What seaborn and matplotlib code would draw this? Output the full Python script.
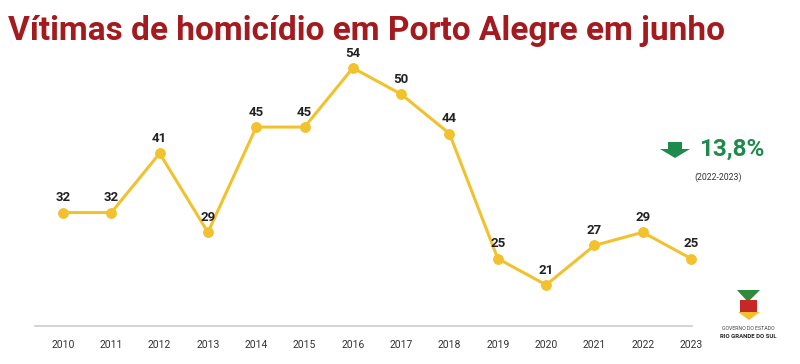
import matplotlib
matplotlib.use("Agg")
import matplotlib.pyplot as plt
from matplotlib.patches import Polygon
import seaborn as sns
import pandas as pd

years = [2010, 2011, 2012, 2013, 2014, 2015, 2016, 2017, 2018, 2019, 2020, 2021, 2022, 2023]
victims = [32, 32, 41, 29, 45, 45, 54, 50, 44, 25, 21, 27, 29, 25]
tick_labels = [str(y) for y in years]
title = "Vítimas de homicídio em Porto Alegre em junho"
change_text = "13,8%"
period_text = "(2022-2023)"
logo_line1 = "GOVERNO DO ESTADO"
logo_line2 = "RIO GRANDE DO SUL"

sns.set_theme(style="white")
plt.rcParams['font.family'] = ['Roboto', 'DejaVu Sans']

df = pd.DataFrame({"ano": years, "vitimas": victims})

W, H = 800, 364
fig = plt.figure(figsize=(W / 100, H / 100), dpi=100)
ax = fig.add_axes([35 / W, 1 - 326 / H, (692 - 35) / W, (326 - 60) / H])

yellow = "#F2C12E"
sns.lineplot(data=df, x="ano", y="vitimas", ax=ax, color=yellow, linewidth=2.2,
             marker="o", markersize=7, markeredgecolor=yellow, markerfacecolor=yellow)
for ln in ax.get_lines():
    ln.set_clip_on(False)

for x, v in zip(years, victims):
    ax.annotate(str(v), (x, v), xytext=(0, 6), textcoords="offset points",
                ha="center", va="bottom", fontsize=9.5, fontweight="bold", color="#222222")

ax.set_xlim(2009.42, 2023.02)
ax.set_ylim(14.75, 55.2)
ax.set_xticks(years)
ax.set_xticklabels(tick_labels, fontsize=7.5, color="#333333")
ax.set_yticks([])
ax.set_xlabel("")
ax.set_ylabel("")
for s in ["top", "right", "left"]:
    ax.spines[s].set_visible(False)
ax.spines["bottom"].set_color("#cccccc")
ax.spines["bottom"].set_linewidth(1.2)
ax.tick_params(axis="x", length=0, pad=10)

fig.text(8 / W, 1 - 31 / H, title, fontsize=24, fontweight="bold", color="#A31B1F",
         ha="left", va="center")

green = "#1E8B4C"
fig.text(699 / W, 1 - 149 / H, change_text, fontsize=17.5, fontweight="bold", color=green,
         ha="left", va="center")


def fp(px, py):
    return (px / W, 1 - py / H)


arrow_pts = [fp(668, 142), fp(682, 142), fp(682, 149), fp(690, 149), fp(675, 158),
             fp(660, 149), fp(668, 149)]
fig.patches.append(Polygon(arrow_pts, closed=True, transform=fig.transFigure,
                           facecolor=green, edgecolor="none"))
fig.text(718 / W, 1 - 177 / H, period_text, fontsize=6.3, color="#333333",
         ha="center", va="center")

# simplified state emblem
fig.patches.append(Polygon([fp(737, 290), fp(760, 290), fp(748, 302)], closed=True,
                           transform=fig.transFigure, facecolor="#2E8B3A", edgecolor="none"))
fig.patches.append(Polygon([fp(740, 300), fp(757, 300), fp(757, 312), fp(740, 312)], closed=True,
                           transform=fig.transFigure, facecolor="#C62828", edgecolor="none"))
fig.patches.append(Polygon([fp(738, 312), fp(760, 312), fp(749, 320)], closed=True,
                           transform=fig.transFigure, facecolor="#F2C12E", edgecolor="none"))

fig.text(748 / W, 1 - 329 / H, logo_line1, fontsize=3.8, color="#444444", ha="center", va="center")
fig.text(748 / W, 1 - 337 / H, logo_line2, fontsize=4.3, fontweight="bold", color="#222222",
         ha="center", va="center")

fig.savefig("out.png", dpi=100)
